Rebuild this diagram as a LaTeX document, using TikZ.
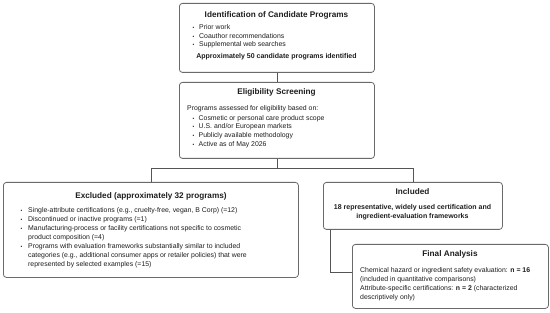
\documentclass[tikz,border=0pt]{standalone}
\usepackage{fontspec}
\setmainfont{Liberation Sans}
\usetikzlibrary{calc}
\definecolor{txt}{HTML}{1E1E1E}
\definecolor{edge}{HTML}{6A6A6A}
\definecolor{wire}{HTML}{555555}
\begin{document}
\begin{tikzpicture}[x=1pt,y=-1pt,
  box/.style={draw=edge, line width=0.8pt, rounded corners=3pt, fill=white, inner sep=0pt, anchor=north west},
  conn/.style={draw=wire, line width=0.7pt},
  ttl/.style={font=\fontsize{8.2}{10}\selectfont\bfseries, text=txt, inner sep=0pt, anchor=base},
  ln/.style={font=\fontsize{6.9}{9}\selectfont, text=txt, inner sep=0pt, anchor=base west},
  cln/.style={font=\fontsize{7}{9}\selectfont\bfseries, text=txt, inner sep=0pt, anchor=base},
  bul/.style={font=\fontsize{5}{6}\selectfont, text=txt, inner sep=0pt, anchor=base west}
]
\useasboundingbox (0,0) rectangle (550,313);

% boxes
\node[box, minimum width=195pt, minimum height=69pt] (b1) at (179,3) {};
\node[box, minimum width=195pt, minimum height=76pt] (b2) at (179,82) {};
\node[box, minimum width=295pt, minimum height=95pt] (ex) at (3,182) {};
\node[box, minimum width=179pt, minimum height=47pt] (inc) at (323,182) {};
\node[box, minimum width=196pt, minimum height=64pt] (fin) at (352,244) {};

% connectors
\draw[conn] (b1.south) -- (b2.north);
\draw[conn] (b2.south) -- ++(0,10) coordinate (split);
\draw[conn] (split) -| (ex.north);
\draw[conn] (split) -| (inc.north);
\coordinate (incdrop) at ($(inc.south west)+(7,0)$);
\draw[conn] (incdrop) |- ($(fin.north west)+(0,28)$);

% box 1
\node[ttl] (t1) at (276.5,18) {Identification of Candidate Programs};
\foreach \i/\y/\t in {1/29.6/{Prior work}, 2/38.2/{Coauthor recommendations}, 3/46.8/{Supplemental web searches}}{
  \node[bul] (b1d\i) at (192.5,\y) {•};
  \node[ln] (b1l\i) at (199,\y) {\t};
}
\node[cln] (b1s) at (276.5,58.8) {Approximately 50 candidate programs identified};

% box 2
\node[ttl] (t2) at (276.5,95) {Eligibility Screening};
\node[ln] (b2h) at (187,111) {Programs assessed for eligibility based on:};
\foreach \i/\y/\t in {1/120.1/{Cosmetic or personal care product scope}, 2/128.8/{U.S. and{/}or European markets}, 3/137.5/{Publicly available methodology}, 4/146.2/{Active as of May 2026}}{
  \node[bul] (b2d\i) at (192.5,\y) {•};
  \node[ln] (b2l\i) at (198.5,\y) {\t};
}

% excluded
\node[ttl] (t3) at (151,198) {Excluded (approximately 32 programs)};
\foreach \i/\y in {1/212.6, 2/221.6, 3/230.6, 5/248.6}{
  \node[bul] (exd\i) at (20.5,\y) {•};
}
\node[ln] (exl1) at (28,212.6) {Single-attribute certifications (e.g., cruelty-free, vegan, B Corp) (=12)};
\node[ln] (exl2) at (28,221.6) {Discontinued or inactive programs (=1)};
\node[ln] (exl3) at (28,230.6) {Manufacturing-process or facility certifications not specific to cosmetic};
\node[ln] (exl4) at (28,239.6) {product composition (=4)};
\node[ln] (exl5) at (28,248.6) {Programs with evaluation frameworks substantially similar to included};
\node[ln] (exl6) at (28,257.6) {categories (e.g., additional consumer apps or retailer policies) that were};
\node[ln] (exl7) at (28,266.6) {represented by selected examples (=15)};

% included
\node[ttl] (t4) at (412.5,195) {Included};
\node[cln] (inl1) at (412.5,209.6) {18 representative, widely used certification and};
\node[cln] (inl2) at (412.5,218.2) {ingredient-evaluation frameworks};

% final
\node[ttl] (t5) at (450,257) {Final Analysis};
\node[ln] (fil1) at (360,272.6) {Chemical hazard or ingredient safety evaluation: \textbf{n = 16}};
\node[ln] (fil2) at (360,281.4) {(included in quantitative comparisons)};
\node[ln] (fil3) at (360,290.2) {Attribute-specific certifications: \textbf{n = 2} (characterized};
\node[ln] (fil4) at (360,299) {descriptively only)};
\end{tikzpicture}
\end{document}
